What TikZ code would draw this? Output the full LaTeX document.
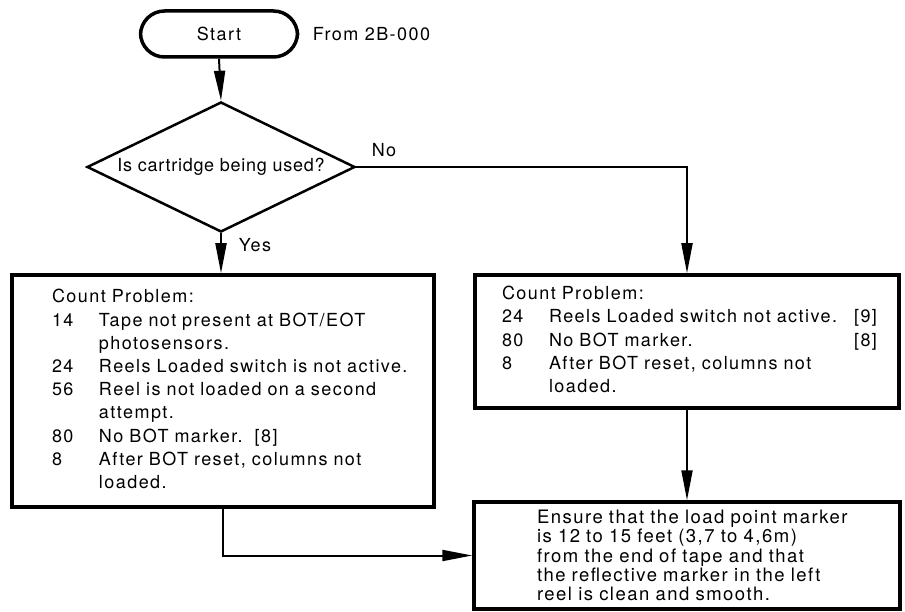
\documentclass[tikz,border=0pt]{standalone}
\usepackage{fontspec}
\setmainfont{TeX Gyre Heros}[LetterSpace=8]
\usetikzlibrary{positioning, shapes.geometric, arrows.meta}

\newcommand{\flowfont}{\fontsize{18}{23.2}\selectfont}

\tikzset{
    every node/.style={font=\flowfont},
    probbox/.style={draw, line width=3.5pt, rectangle, align=left, inner ysep=0pt,
    font=\flowfont},
    flow/.style={line width=2pt, -{Triangle[length=30pt,width=11pt]}},
}

\begin{document}
\begin{tikzpicture}[x=1pt, y=-1pt]

    \useasboundingbox (0,0) rectangle (905,612);

    \node[draw, line width=3.5pt, rounded corners=24pt, minimum width=157pt,
    minimum height=46pt] (start) at (219,34) {Start};
    \node[right=10pt of start] (from) {From 2B-000};

    \node[draw, diamond, line width=2.5pt, inner sep=0pt, shape aspect=2,
    minimum width=268pt, minimum height=130pt,
    font=\flowfont\addfontfeature{LetterSpace=4}] (used) at (221,167)
    {Is cartridge being used?};

    \node[probbox, text width=342pt, inner xsep=40pt, minimum height=232pt]
    (cnt14) at (223,391) {%
    \begin{tabular}{@{}p{47pt}@{}l@{}}
    \multicolumn{2}{@{}l@{}}{Count Problem:}\\
    14 & Tape not present at BOT/EOT\\
       & photosensors.\\
    24 & Reels Loaded switch is not active.\\
    56 & Reel is not loaded on a second\\
       & attempt.\\
    80 & No BOT marker.\ \ [8]\\
    8  & After BOT reset, columns not\\
       & loaded.
    \end{tabular}};

    \node[probbox, text width=370pt, inner xsep=27pt, minimum height=133pt]
    (cnt24) at (687,341.5) {%
    \begin{tabular}{@{}p{47pt}@{}p{328pt}@{}}
    \multicolumn{2}{@{}l@{}}{Count Problem:}\\
    24 & Reels Loaded switch not active.\hfill[9]\\
    80 & No BOT marker.\hfill[8]\\
    8  & After BOT reset, columns not\\
       & loaded.
    \end{tabular}};

    \node[probbox, text width=300pt, inner xsep=63pt, minimum height=107pt,
    font=\fontsize{18.5}{19.2}\selectfont] (tape) at (687,555.5) {%
    \begin{tabular}{@{}l@{}}
    \rule{0pt}{19pt}Ensure that the load point marker\\
    is 12 to 15 feet (3,7 to 4,6m)\\
    from the end of tape and that\\
    the reflective marker in the left\\
    reel is clean and smooth.
    \end{tabular}};

    \node (yes) at (255,245) {Yes};
    \node (no) at (384,150) {No};

    \draw[flow] (start.south) -- (used.north);
    \draw[flow] (used.south) -- (used.south |- cnt14.north);
    \draw[flow] (used.east) -| (cnt24.north);
    \draw[flow] (cnt24.south) -- (tape.north);
    \draw[flow] (cnt14.south) |- (tape.west);

\end{tikzpicture}
\end{document}
